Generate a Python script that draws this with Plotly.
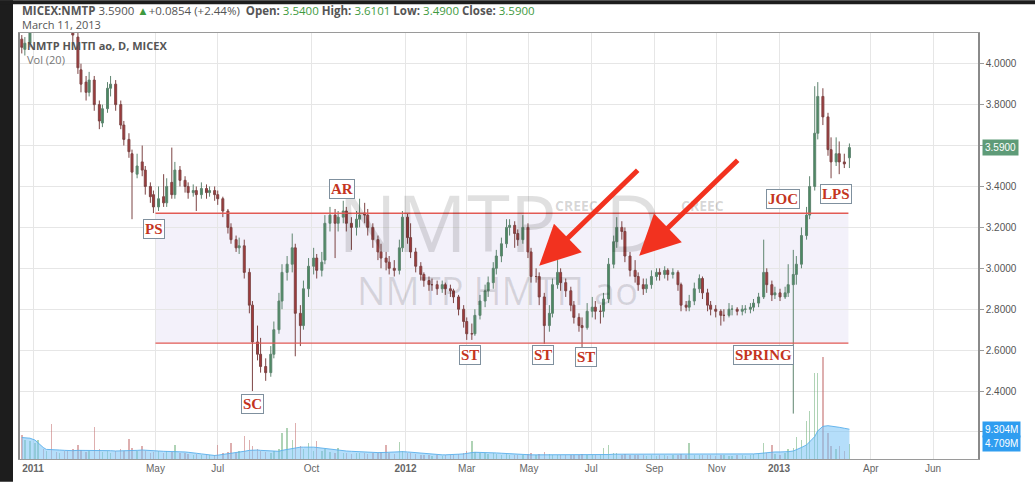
import pandas as pd
import plotly.graph_objects as go

# ---- MICEX:NMTP daily-style OHLC, sampled every third trading session ----
opens = [4.12, 4.07, 4.10, 4.17, 4.27, 4.35, 4.31, 4.38, 4.31, 4.26,
         4.29, 4.25, 4.20, 4.13, 3.97, 3.91, 3.86, 3.92, 3.80, 3.71,
         3.78, 3.88, 3.90, 3.80, 3.70, 3.63, 3.56, 3.46, 3.52, 3.48,
         3.40, 3.36, 3.30, 3.35, 3.32, 3.42, 3.36, 3.48, 3.43, 3.40,
         3.37, 3.38, 3.36, 3.39, 3.37, 3.38, 3.36, 3.34, 3.28, 3.20,
         3.14, 3.10, 3.11, 2.98, 2.82, 2.64, 2.58, 2.52, 2.49, 2.58,
         2.70, 2.84, 2.98, 3.02, 3.10, 2.78, 2.72, 2.90, 3.01, 3.05,
         2.99, 3.04, 3.22, 3.26, 3.22, 3.25, 3.28, 3.22, 3.20, 3.24,
         3.27, 3.26, 3.20, 3.14, 3.08, 3.05, 3.03, 3.00, 2.99, 3.10,
         3.25, 3.15, 3.08, 3.01, 2.97, 2.94, 2.92, 2.92, 2.90, 2.92,
         2.90, 2.89, 2.86, 2.80, 2.74, 2.68, 2.68, 2.77, 2.84, 2.89,
         2.93, 3.00, 3.06, 3.12, 3.20, 3.21, 3.17, 3.14, 3.20, 3.08,
         2.96, 2.96, 2.86, 2.72, 2.78, 2.92, 2.98, 2.93, 2.89, 2.82,
         2.76, 2.72, 2.71, 2.79, 2.81, 2.79, 2.79, 2.85, 3.02, 3.13,
         3.20, 3.18, 3.06, 2.99, 2.96, 2.92, 2.90, 2.92, 2.96, 2.98,
         2.97, 2.99, 2.97, 2.98, 2.92, 2.82, 2.81, 2.84, 2.90, 2.95,
         2.88, 2.82, 2.80, 2.79, 2.77, 2.77, 2.80, 2.80, 2.79, 2.80,
         2.80, 2.81, 2.83, 2.86, 2.98, 2.92, 2.87, 2.88, 2.86, 2.88,
         2.92, 2.97, 3.02, 3.16, 3.26, 3.40, 3.66, 3.84, 3.74, 3.58,
         3.52, 3.56, 3.52, 3.54]
highs = [4.14, 4.13, 4.22, 4.32, 4.38, 4.37, 4.42, 4.40, 4.33, 4.34,
         4.31, 4.28, 4.24, 4.15, 4.00, 3.94, 3.96, 3.94, 3.82, 3.80,
         3.91, 3.94, 3.92, 3.82, 3.72, 3.66, 3.58, 3.56, 3.60, 3.50,
         3.42, 3.38, 3.40, 3.46, 3.44, 3.59, 3.52, 3.50, 3.45, 3.42,
         3.41, 3.40, 3.42, 3.41, 3.40, 3.40, 3.38, 3.35, 3.29, 3.22,
         3.16, 3.15, 3.14, 3.00, 2.84, 2.72, 2.66, 2.56, 2.62, 2.74,
         2.88, 3.02, 3.06, 3.17, 3.12, 2.82, 2.94, 3.05, 3.10, 3.07,
         3.08, 3.26, 3.30, 3.29, 3.28, 3.33, 3.30, 3.25, 3.28, 3.34,
         3.32, 3.29, 3.22, 3.16, 3.12, 3.08, 3.06, 3.04, 3.14, 3.28,
         3.27, 3.22, 3.10, 3.03, 2.98, 2.96, 2.95, 2.94, 2.94, 2.93,
         2.92, 2.90, 2.87, 2.82, 2.76, 2.73, 2.80, 2.87, 2.92, 2.96,
         3.03, 3.09, 3.15, 3.24, 3.24, 3.23, 3.19, 3.26, 3.22, 3.10,
         3.00, 2.98, 2.88, 2.82, 2.95, 3.04, 3.00, 2.95, 2.91, 2.84,
         2.78, 2.76, 2.83, 2.86, 2.84, 2.82, 2.88, 3.05, 3.16, 3.25,
         3.23, 3.20, 3.08, 3.04, 2.98, 2.95, 2.95, 2.99, 3.00, 3.00,
         3.01, 3.00, 3.00, 2.99, 2.93, 2.84, 2.87, 2.93, 2.97, 2.96,
         2.90, 2.84, 2.82, 2.80, 2.80, 2.83, 2.82, 2.81, 2.82, 2.82,
         2.83, 2.85, 2.88, 3.14, 3.00, 2.94, 2.91, 2.90, 2.91, 3.02,
         3.09, 3.06, 3.20, 3.30, 3.45, 3.89, 3.91, 3.88, 3.76, 3.64,
         3.64, 3.62, 3.56, 3.6101]
lows = [4.05, 4.04, 4.08, 4.15, 4.24, 4.26, 4.28, 4.28, 4.22, 4.22,
        4.20, 4.15, 4.10, 3.95, 3.86, 3.82, 3.84, 3.77, 3.68, 3.69,
        3.76, 3.84, 3.77, 3.68, 3.60, 3.54, 3.24, 3.44, 3.45, 3.36,
        3.32, 3.27, 3.28, 3.30, 3.30, 3.34, 3.34, 3.40, 3.37, 3.34,
        3.35, 3.28, 3.34, 3.34, 3.35, 3.33, 3.31, 3.25, 3.17, 3.12,
        3.08, 3.07, 2.95, 2.78, 2.40, 2.55, 2.49, 2.45, 2.47, 2.56,
        2.68, 2.80, 2.94, 2.98, 2.57, 2.62, 2.70, 2.86, 2.97, 2.95,
        2.96, 3.02, 3.18, 3.05, 3.18, 3.22, 3.18, 3.09, 3.16, 3.20,
        3.22, 3.16, 3.10, 3.04, 3.00, 2.99, 2.97, 2.96, 2.97, 3.08,
        3.12, 3.05, 2.98, 2.94, 2.91, 2.89, 2.89, 2.87, 2.88, 2.87,
        2.86, 2.83, 2.77, 2.71, 2.65, 2.65, 2.67, 2.75, 2.81, 2.86,
        2.90, 2.97, 3.03, 3.10, 3.16, 3.10, 3.11, 3.12, 3.05, 2.93,
        2.93, 2.82, 2.63, 2.69, 2.76, 2.90, 2.89, 2.86, 2.79, 2.73,
        2.69, 2.61, 2.70, 2.76, 2.75, 2.73, 2.76, 2.83, 3.00, 3.10,
        3.14, 3.03, 2.96, 2.93, 2.89, 2.87, 2.88, 2.90, 2.94, 2.94,
        2.95, 2.94, 2.95, 2.89, 2.79, 2.79, 2.79, 2.82, 2.88, 2.85,
        2.79, 2.77, 2.76, 2.72, 2.74, 2.76, 2.77, 2.77, 2.77, 2.78,
        2.78, 2.79, 2.81, 2.85, 2.88, 2.84, 2.85, 2.84, 2.85, 2.86,
        2.29, 2.92, 3.00, 3.14, 3.24, 3.38, 3.63, 3.70, 3.55, 3.44,
        3.50, 3.46, 3.49, 3.49]
closes = [4.08, 4.10, 4.16, 4.28, 4.34, 4.30, 4.38, 4.32, 4.26, 4.30,
          4.24, 4.20, 4.14, 3.98, 3.90, 3.86, 3.92, 3.80, 3.72, 3.78,
          3.88, 3.90, 3.80, 3.70, 3.63, 3.57, 3.47, 3.50, 3.48, 3.40,
          3.35, 3.30, 3.34, 3.32, 3.40, 3.36, 3.48, 3.43, 3.40, 3.37,
          3.38, 3.36, 3.39, 3.37, 3.38, 3.36, 3.34, 3.28, 3.20, 3.14,
          3.10, 3.11, 2.98, 2.82, 2.64, 2.58, 2.52, 2.49, 2.58, 2.70,
          2.84, 2.98, 3.02, 3.10, 2.78, 2.72, 2.90, 3.01, 3.05, 2.99,
          3.03, 3.22, 3.26, 3.22, 3.25, 3.28, 3.22, 3.20, 3.24, 3.26,
          3.26, 3.20, 3.14, 3.08, 3.05, 3.03, 3.00, 2.99, 3.10, 3.25,
          3.15, 3.08, 3.01, 2.97, 2.94, 2.92, 2.92, 2.90, 2.92, 2.90,
          2.89, 2.86, 2.80, 2.74, 2.68, 2.68, 2.77, 2.84, 2.89, 2.93,
          3.00, 3.06, 3.12, 3.20, 3.21, 3.17, 3.14, 3.20, 3.08, 2.96,
          2.96, 2.86, 2.72, 2.78, 2.92, 2.98, 2.93, 2.89, 2.82, 2.76,
          2.72, 2.71, 2.79, 2.81, 2.79, 2.79, 2.85, 3.02, 3.13, 3.20,
          3.18, 3.06, 2.99, 2.96, 2.92, 2.90, 2.92, 2.96, 2.98, 2.97,
          2.99, 2.97, 2.98, 2.92, 2.82, 2.81, 2.84, 2.90, 2.95, 2.88,
          2.82, 2.80, 2.79, 2.77, 2.77, 2.80, 2.80, 2.79, 2.80, 2.80,
          2.81, 2.83, 2.86, 2.98, 2.92, 2.87, 2.88, 2.86, 2.88, 2.92,
          2.97, 3.02, 3.16, 3.26, 3.40, 3.66, 3.84, 3.74, 3.58, 3.52,
          3.56, 3.52, 3.51, 3.59]
# volume per session and its 20-period average, millions of shares
volumes_m = [7.5, 6.0, 5.5, 5.0, 6.0, 3.0, 2.5, 11.0, 2.2, 2.0,
             2.4, 2.6, 3.0, 4.5, 2.8, 2.2, 2.4, 10.0, 3.0, 2.2,
             2.5, 2.0, 2.6, 3.0, 2.5, 6.3, 3.5, 2.5, 4.2, 2.4,
             2.0, 2.2, 2.4, 2.0, 2.6, 2.3, 4.5, 2.0, 1.8, 1.6,
             1.4, 1.5, 1.3, 1.2, 1.1, 1.2, 4.5, 2.0, 2.2, 5.0,
             2.0, 2.4, 7.3, 6.0, 4.0, 3.2, 2.5, 2.2, 2.0, 2.4,
             3.0, 8.0, 9.7, 6.0, 11.2, 4.0, 3.0, 5.0, 2.6, 5.5,
             2.4, 3.0, 2.2, 2.0, 3.5, 2.0, 1.8, 1.6, 1.8, 2.0,
             1.8, 1.6, 1.8, 2.0, 2.2, 4.5, 1.8, 1.6, 5.3, 2.6,
             2.0, 1.8, 1.6, 1.4, 1.2, 1.1, 1.0, 1.2, 1.0, 1.1,
             1.2, 1.4, 1.6, 2.0, 2.4, 5.5, 2.2, 2.0, 1.8, 1.6,
             1.8, 1.6, 1.4, 1.5, 1.3, 1.2, 1.1, 1.2, 1.6, 1.8,
             1.4, 1.6, 2.2, 1.6, 1.4, 1.3, 1.2, 1.1, 1.2, 1.3,
             1.4, 1.6, 1.4, 1.2, 1.1, 1.3, 3.5, 4.5, 2.0, 1.8,
             1.4, 1.5, 1.3, 1.2, 1.2, 1.1, 1.0, 1.1, 1.0, 1.2,
             1.1, 1.0, 1.1, 1.3, 1.5, 1.2, 5.0, 1.4, 1.3, 1.2,
             1.3, 1.1, 1.0, 1.2, 1.1, 1.0, 1.0, 1.1, 1.2, 1.0,
             1.3, 1.5, 1.8, 5.0, 2.0, 4.5, 1.6, 1.4, 1.8, 3.0,
             3.5, 6.8, 6.0, 12.0, 15.0, 27.0, 27.0, 32.0, 8.0, 4.0,
             3.0, 4.0, 2.5, 4.709]
vol_ma_m = [6.7, 6.6, 6.5, 5.9, 5.0, 3.6, 3.0, 3.0, 2.9, 2.8,
            2.7, 2.6, 2.6, 2.7, 2.7, 2.6, 2.6, 2.8, 2.8, 2.7,
            2.7, 2.6, 2.5, 2.5, 2.5, 2.6, 2.7, 2.7, 2.8, 2.7,
            2.6, 2.5, 2.5, 2.4, 2.4, 2.4, 2.4, 2.3, 2.2, 2.1,
            2.0, 1.8, 1.6, 1.4, 1.2, 1.1, 1.2, 1.4, 1.6, 1.8,
            2.0, 2.1, 2.4, 2.7, 2.8, 2.8, 2.7, 2.6, 2.5, 2.4,
            2.4, 2.7, 3.0, 3.3, 3.6, 3.7, 3.7, 3.8, 3.7, 3.6,
            3.4, 3.2, 3.0, 2.8, 2.7, 2.6, 2.5, 2.4, 2.3, 2.2,
            2.1, 2.0, 2.0, 2.0, 2.0, 2.1, 2.1, 2.1, 2.3, 2.3,
            2.2, 2.1, 2.0, 1.9, 1.8, 1.6, 1.5, 1.4, 1.3, 1.3,
            1.3, 1.4, 1.5, 1.6, 1.8, 2.0, 2.1, 2.1, 2.1, 2.0,
            2.0, 1.9, 1.8, 1.7, 1.6, 1.5, 1.4, 1.3, 1.3, 1.3,
            1.3, 1.3, 1.3, 1.3, 1.2, 1.2, 1.2, 1.2, 1.2, 1.2,
            1.2, 1.2, 1.2, 1.2, 1.2, 1.2, 1.3, 1.4, 1.5, 1.5,
            1.5, 1.5, 1.5, 1.5, 1.4, 1.4, 1.4, 1.4, 1.4, 1.4,
            1.4, 1.4, 1.4, 1.4, 1.4, 1.4, 1.5, 1.5, 1.5, 1.5,
            1.5, 1.5, 1.4, 1.4, 1.4, 1.4, 1.4, 1.4, 1.4, 1.4,
            1.5, 1.6, 1.7, 1.9, 2.0, 2.1, 2.2, 2.2, 2.2, 2.3,
            2.5, 3.0, 3.6, 4.4, 5.5, 7.0, 8.8, 10.2, 10.4, 10.3,
            10.2, 9.9, 9.6, 9.304]

month_ticks = ["2011-01-01", "2011-05-01", "2011-07-01", "2011-10-01",
               "2012-01-01", "2012-03-01", "2012-05-01", "2012-07-01",
               "2012-09-01", "2012-11-01", "2013-01-01", "2013-04-01",
               "2013-06-01"]
month_labels = ["<b>2011</b>", "May", "Jul", "Oct", "<b>2012</b>", "Mar", "May",
                "Jul", "Sep", "Nov", "<b>2013</b>", "Apr", "Jun"]
price_ticks = [2.2, 2.4, 2.6, 2.8, 3.0, 3.2, 3.4, 3.6, 3.8, 4.0]

# Wyckoff phase labels: text, date, price
phase_labels = [
    ("PS", "2011-04-30", 3.191),
    ("AR", "2011-10-31", 3.390),
    ("SC", "2011-08-04", 2.339),
    ("ST", "2012-03-04", 2.576),
    ("ST", "2012-05-15", 2.576),
    ("ST", "2012-06-26", 2.567),
    ("JOC", "2013-01-05", 3.337),
    ("LPS", "2013-02-26", 3.361),
    ("SPRING", "2012-12-17", 2.576),
]
range_top, range_bottom = 3.269, 2.634
range_start, range_end = "2011-05-01", "2013-03-10"

dates = pd.bdate_range(end="2013-03-11", periods=len(closes), freq="3B")

# plot area in pixels (page is 1035 x 486)
L, R, T, B = 20, 57, 33, 23
W, H = 1035, 486
PW, PH = W - L - R, H - T - B


def px(x, y):
    return (x - L) / PW, (H - B - y) / PH


fig = go.Figure()

up_vol = "rgba(110,175,120,0.55)"
dn_vol = "rgba(195,110,110,0.55)"
vol_colors = [up_vol if c >= o else dn_vol for o, c in zip(opens, closes)]

fig.add_trace(go.Scatter(
    x=dates, y=vol_ma_m, yaxis="y2", mode="lines", fill="tozeroy",
    line=dict(color="rgba(90,175,235,0.9)", width=1),
    fillcolor="rgba(120,195,245,0.55)", hoverinfo="skip"))
fig.add_trace(go.Bar(
    x=dates, y=volumes_m, yaxis="y2", marker_color=vol_colors,
    marker_line_width=0, width=1.4 * 86400000, hoverinfo="skip"))

fig.add_trace(go.Candlestick(
    x=dates, open=opens, high=highs, low=lows, close=closes,
    increasing=dict(line=dict(color="#5f8570", width=1), fillcolor="#4b8a62"),
    decreasing=dict(line=dict(color="#7d4444", width=1), fillcolor="#a5393a"),
    whiskerwidth=0))

shapes = []
# trading range box
shapes.append(dict(type="rect", xref="x", yref="y", x0=range_start, x1=range_end,
                   y0=range_bottom, y1=range_top, fillcolor="rgba(190,175,225,0.18)",
                   line=dict(width=0), layer="below"))
for lvl in (range_top, range_bottom):
    shapes.append(dict(type="line", xref="x", yref="y", x0=range_start, x1=range_end,
                       y0=lvl, y1=lvl, line=dict(color="#e25a55", width=1.3)))
# dark page edges
x0p, _ = px(0, 0)
x13, _ = px(13, 0)
xr, _ = px(W, 0)
_, ytop = px(0, 0)
_, y4 = px(0, 4)
_, ybot = px(0, H)
shapes.append(dict(type="rect", xref="paper", yref="paper", x0=x0p, x1=x13,
                   y0=ybot, y1=ytop, fillcolor="#1d1d1d", line=dict(width=0)))
shapes.append(dict(type="rect", xref="paper", yref="paper", x0=x0p, x1=xr,
                   y0=y4, y1=ytop, fillcolor="#1d1d1d", line=dict(width=0)))

ann = []
# watermarks
wm_color = "rgba(0,0,0,0.12)"
wx, wy = px(447, 224)
ann.append(dict(xref="paper", yref="paper", x=wx, y=wy, text="NMTP", showarrow=False,
                font=dict(family="Open Sans", size=78, color=wm_color)))
wx, wy = px(633, 224)
ann.append(dict(xref="paper", yref="paper", x=wx, y=wy, text="D", showarrow=False,
                font=dict(family="Open Sans", size=78, color=wm_color)))
wx, wy = px(497, 292)
ann.append(dict(xref="paper", yref="paper", x=wx, y=wy, text="NMTP НМТП ао", showarrow=False,
                font=dict(family="Open Sans", size=38, color=wm_color)))
for cx in (576, 726):
    wx, wy = px(cx, 207)
    ann.append(dict(xref="paper", yref="paper", x=wx, y=wy, text="<b>CREEC</b>",
                    showarrow=False,
                    font=dict(family="Open Sans", size=14, color="rgba(0,0,0,0.17)")))

# header
green = "#3f9a3f"
hx, hy = px(20, 10)
header = ("<b>MICEX:NMTP</b> 3.5900 <span style='color:%s'>▲</span>+0.0854 (+2.44%%)  "
          "<b>Open:</b> <span style='color:%s'>3.5400</span> "
          "<b>High:</b> <span style='color:%s'>3.6101</span> "
          "<b>Low:</b> <span style='color:%s'>3.4900</span> "
          "<b>Close:</b> <span style='color:%s'>3.5900</span>") % ((green,) * 5)
ann.append(dict(xref="paper", yref="paper", x=hx, y=hy, xanchor="left", yanchor="middle",
                text=header, showarrow=False,
                font=dict(family="Open Sans", size=11.5, color="#555555")))
hx, hy = px(20, 24)
ann.append(dict(xref="paper", yref="paper", x=hx, y=hy, xanchor="left", yanchor="middle",
                text="March 11, 2013", showarrow=False,
                font=dict(family="Open Sans", size=11, color="#555555")))
# series legend
hx, hy = px(25, 46)
ann.append(dict(xref="paper", yref="paper", x=hx, y=hy, xanchor="left", yanchor="middle",
                text="<b>NMTP НМТП ао, D, MICEX</b>", showarrow=False,
                font=dict(family="Open Sans", size=11, color="#555555")))
hx, hy = px(25, 60)
ann.append(dict(xref="paper", yref="paper", x=hx, y=hy, xanchor="left", yanchor="middle",
                text="Vol (20)", showarrow=False,
                font=dict(family="Open Sans", size=11, color="#777777")))

# phase labels
for txt, d, p in phase_labels:
    ann.append(dict(x=d, y=p, xref="x", yref="y", text="<b>%s</b>" % txt, showarrow=False,
                    font=dict(family="Liberation Serif", size=15, color="#c4351f"),
                    bgcolor="white", bordercolor="#7f909e", borderwidth=1, borderpad=1))

# red arrows
for d, p in (("2012-05-11", 3.012), ("2012-08-17", 3.061)):
    ann.append(dict(x=d, y=p, xref="x", yref="y", text="", showarrow=True,
                    ax=100, ay=-97, arrowhead=2, arrowsize=1.6, arrowwidth=5,
                    arrowcolor="#f2321f", standoff=0))

# last-value tags on the axis
ann.append(dict(xref="paper", yref="y", x=1, y=closes[-1], xanchor="left", xshift=4,
                text="%.4f" % closes[-1], showarrow=False, bgcolor="#5e9b78",
                borderpad=2, font=dict(family="Liberation Sans", size=10, color="white")))
ann.append(dict(xref="paper", yref="y2", x=1, y=vol_ma_m[-1], xanchor="left", xshift=4,
                text="%.3fM" % vol_ma_m[-1], showarrow=False, bgcolor="#2f9df0",
                borderpad=2, font=dict(family="Liberation Sans", size=10, color="white")))
ann.append(dict(xref="paper", yref="y2", x=1, y=volumes_m[-1], xanchor="left", xshift=4,
                text="%.3fM" % volumes_m[-1], showarrow=False, bgcolor="#2f9df0",
                borderpad=2, font=dict(family="Liberation Sans", size=10, color="white")))

fig.update_layout(
    width=W, height=H,
    margin=dict(l=L, r=R, t=T, b=B),
    paper_bgcolor="white", plot_bgcolor="white",
    showlegend=False,
    shapes=shapes, annotations=ann,
    boxgap=0.08,
    xaxis=dict(type="date", range=["2010-12-19 06:00", "2013-07-15"],
               tickvals=month_ticks, ticktext=month_labels,
               showgrid=True, gridcolor="#e6e6e6", gridwidth=1,
               showline=True, mirror=True, linecolor="#9a9a9a", linewidth=1,
               ticks="", rangeslider=dict(visible=False),
               tickfont=dict(family="Liberation Sans", size=10, color="#666666")),
    yaxis=dict(side="right", range=[2.068, 4.150],
               tickvals=price_ticks,
               ticktext=[""] + ["%.4f" % v for v in price_ticks[1:]],
               showgrid=True, gridcolor="#e6e6e6", zeroline=False,
               showline=True, mirror=True, linecolor="#8a8a8a", linewidth=1.5,
               ticks="outside", ticklen=4, tickcolor="#9a9a9a",
               tickfont=dict(family="Liberation Sans", size=10, color="#555555")),
    yaxis2=dict(overlaying="y", range=[0, 133], visible=False),
    bargap=0,
)

fig.write_html("out.html")
